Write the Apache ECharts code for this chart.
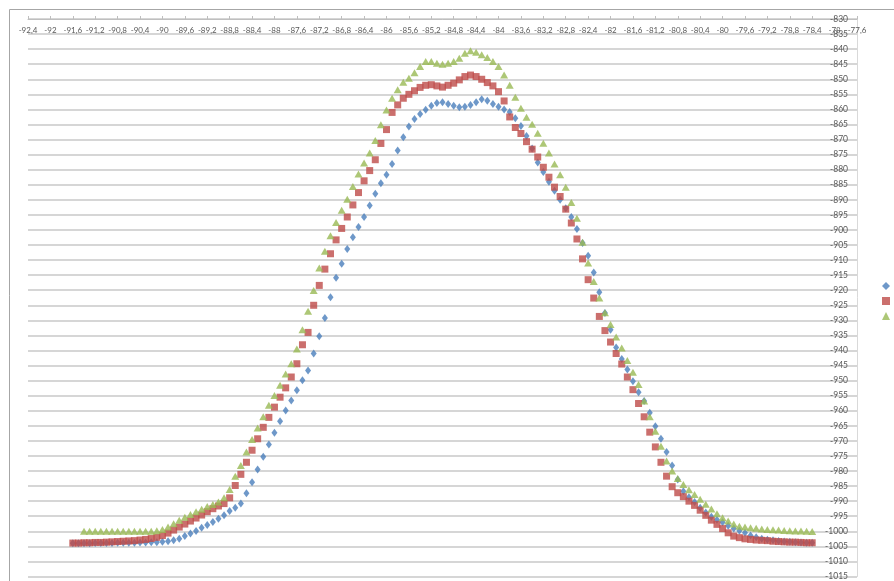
<!DOCTYPE html>
<html>
<head>
<meta charset="utf-8">
<script src="https://cdn.jsdelivr.net/npm/echarts@6/dist/echarts.min.js"></script>
<style>
html,body{margin:0;padding:0;background:#fff;}
#chart{width:894px;height:581px;}
</style>
</head>
<body>
<div id="chart"></div>
<script>
// x positions of the measurements
var xValues = [
-91.6,-91.5,-91.4,-91.3,-91.2,-91.1,-91.0,-90.9,-90.8,-90.7,
-90.6,-90.5,-90.4,-90.3,-90.2,-90.1,-90.0,-89.9,-89.8,-89.7,
-89.6,-89.5,-89.4,-89.3,-89.2,-89.1,-89.0,-88.9,-88.8,-88.7,
-88.6,-88.5,-88.4,-88.3,-88.2,-88.1,-88.0,-87.9,-87.8,-87.7,
-87.6,-87.5,-87.4,-87.3,-87.2,-87.1,-87.0,-86.9,-86.8,-86.7,
-86.6,-86.5,-86.4,-86.3,-86.2,-86.1,-86.0,-85.9,-85.8,-85.7,
-85.6,-85.5,-85.4,-85.3,-85.2,-85.1,-85.0,-84.9,-84.8,-84.7,
-84.6,-84.5,-84.4,-84.3,-84.2,-84.1,-84.0,-83.9,-83.8,-83.7,
-83.6,-83.5,-83.4,-83.3,-83.2,-83.1,-83.0,-82.9,-82.8,-82.7,
-82.6,-82.5,-82.4,-82.3,-82.2,-82.1,-82.0,-81.9,-81.8,-81.7,
-81.6,-81.5,-81.4,-81.3,-81.2,-81.1,-81.0,-80.9,-80.8,-80.7,
-80.6,-80.5,-80.4,-80.3,-80.2,-80.1,-80.0,-79.9,-79.8,-79.7,
-79.6,-79.5,-79.4,-79.3,-79.2,-79.1,-79.0,-78.9,-78.8,-78.7,
-78.6,-78.5,-78.4
];

// Series 1 (blue diamonds)
var series1 = [
-1004.0,-1004.0,-1004.0,-1004.0,-1003.9,-1003.9,-1003.9,-1003.9,-1003.8,-1003.8,
-1003.8,-1003.8,-1003.7,-1003.7,-1003.6,-1003.6,-1003.5,-1003.3,-1003.0,-1002.5,
-1001.6,-1000.7,-999.9,-998.8,-997.9,-996.9,-995.8,-994.7,-993.3,-992.2,
-990.8,-987.4,-983.7,-979.5,-975.3,-971.2,-967.3,-963.5,-959.9,-956.6,
-953.2,-949.9,-946.6,-941.0,-935.3,-929.2,-922.3,-915.9,-911.2,-906.3,
-902.4,-899.0,-895.7,-891.9,-888.0,-884.5,-881.7,-878.1,-873.6,-869.2,
-865.7,-863.2,-861.5,-860.1,-858.8,-857.9,-857.6,-858.2,-858.8,-859.3,
-859.1,-858.5,-857.6,-856.6,-857.1,-858.2,-859.1,-860.0,-860.9,-862.9,
-865.5,-868.8,-873.0,-877.6,-880.8,-884.0,-887.0,-890.0,-892.8,-895.7,
-899.7,-904.3,-908.6,-914.1,-920.7,-927.6,-933.1,-939.0,-942.8,-946.3,
-950.2,-953.9,-956.8,-960.7,-965.1,-969.3,-973.7,-978.2,-982.8,-986.7,
-988.7,-990.3,-992.2,-993.8,-995.2,-996.2,-997.0,-998.2,-999.1,-999.8,
-1000.5,-1001.4,-1002.0,-1002.5,-1002.8,-1003.0,-1003.2,-1003.4,-1003.5,-1003.6,
-1003.7,-1003.8,-1003.8
];

// Series 2 (red squares)
var series2 = [
-1003.9,-1003.9,-1003.8,-1003.8,-1003.7,-1003.7,-1003.6,-1003.5,-1003.4,-1003.3,
-1003.2,-1003.1,-1002.9,-1002.7,-1002.4,-1002.0,-1001.4,-1000.6,-999.6,-998.6,
-997.6,-996.6,-995.6,-994.6,-993.5,-992.5,-991.6,-990.8,-988.9,-984.8,
-981.1,-977.1,-973.1,-969.3,-965.5,-962.2,-958.8,-955.5,-952.4,-948.8,
-944.4,-938.1,-934.0,-925.0,-918.4,-913.0,-907.9,-903.3,-899.5,-895.7,
-891.7,-887.6,-883.7,-880.3,-876.7,-871.3,-866.7,-861.0,-858.5,-856.3,
-855.0,-853.8,-852.7,-852.0,-851.8,-852.2,-852.6,-852.0,-851.3,-850.2,
-849.1,-848.6,-849.1,-850.0,-851.1,-852.2,-854.1,-857.2,-862.5,-866.0,
-868.0,-870.7,-873.2,-875.8,-879.2,-882.5,-885.8,-888.9,-893.1,-897.7,
-903.0,-909.6,-916.5,-922.6,-928.7,-933.4,-937.2,-941.0,-944.5,-948.8,
-953.0,-957.6,-962.0,-967.1,-972.0,-977.1,-981.7,-985.2,-987.2,-988.5,
-990.0,-991.4,-993.0,-994.7,-996.3,-997.7,-999.1,-1000.5,-1001.6,-1002.1,
-1002.5,-1002.7,-1002.9,-1003.0,-1003.1,-1003.3,-1003.4,-1003.5,-1003.6,-1003.6,
-1003.7,-1003.8,-1003.8
];

// Series 3 (green triangles)
var series3 = [
null,null,-1000.0,-1000.0,-1000.0,-1000.0,-1000.0,-1000.0,-1000.0,-1000.0,
-1000.0,-1000.0,-1000.0,-1000.0,-1000.0,-999.8,-999.4,-998.6,-997.5,-996.3,
-995.3,-994.4,-993.5,-992.7,-991.8,-991.1,-990.3,-988.9,-986.1,-981.7,
-978.2,-973.7,-969.5,-965.7,-962.0,-958.2,-954.9,-951.5,-947.8,-944.4,
-939.5,-933.1,-927.0,-920.1,-912.6,-907.1,-901.9,-897.5,-893.5,-889.8,
-885.6,-881.4,-877.8,-874.5,-870.3,-865.1,-860.2,-856.3,-853.5,-851.0,
-849.7,-847.8,-845.8,-844.1,-844.1,-844.7,-845.0,-844.7,-844.1,-843.0,
-841.4,-840.5,-841.0,-841.9,-842.8,-844.1,-845.8,-848.6,-852.0,-856.0,
-859.6,-862.6,-864.9,-867.9,-871.2,-874.5,-878.1,-881.7,-885.8,-890.9,
-896.1,-904.1,-911.0,-917.1,-922.6,-927.5,-931.4,-935.5,-939.2,-943.3,
-947.2,-951.3,-956.8,-962.0,-966.8,-971.8,-976.7,-980.0,-982.5,-984.5,
-986.2,-987.8,-989.4,-991.0,-992.6,-994.2,-995.5,-996.6,-997.6,-998.3,
-998.6,-998.8,-999.0,-999.2,-999.4,-999.5,-999.6,-999.7,-999.8,-999.9,
-999.9,-1000.0,-1000.1
];

var seriesNames = ['Series1', 'Series2', 'Series3'];

var xMin = -92.4, xMax = -77.6, xStep = 0.4;
var yMin = -1015, yMax = -830, yStep = 5;

function pairs(vals) {
  var out = [];
  for (var i = 0; i < xValues.length; i++) {
    if (vals[i] !== null) out.push([xValues[i], vals[i]]);
  }
  return out;
}

var FONT = 'Lato, "Open Sans", sans-serif';
var chart = echarts.init(document.getElementById('chart'));
chart.setOption({
  animation: false,
  backgroundColor: '#ffffff',
  textStyle: { fontFamily: FONT },
  graphic: [{
    type: 'rect',
    shape: { x: 9.5, y: 9.5, width: 900, height: 600 },
    style: { fill: 'none', stroke: '#a6a6a6', lineWidth: 1 },
    silent: true
  }],
  grid: { left: 28, right: 37, top: 19, bottom: 4, containLabel: false },
  legend: {
    orient: 'vertical',
    left: 877,
    top: 277,
    itemWidth: 8,
    itemHeight: 8,
    itemGap: 7,
    data: seriesNames,
    formatter: function () { return ''; },
    textStyle: { fontSize: 1 },
    selectedMode: false
  },
  xAxis: {
    type: 'value',
    position: 'top',
    min: xMin,
    max: xMax,
    interval: xStep,
    axisLine: { show: true, lineStyle: { color: '#bfbfbf', width: 1 } },
    axisTick: { show: true, inside: false, length: 3, lineStyle: { color: '#bfbfbf' } },
    splitLine: { show: false },
    axisLabel: {
      inside: true,
      margin: 7,
      fontSize: 8,
      color: '#595959',
      fontFamily: FONT,
      showMinLabel: true,
      showMaxLabel: true,
      hideOverlap: false,
      formatter: function (v) {
        var r = Math.round(v * 10) / 10;
        return String(r).replace('.', ',');
      }
    }
  },
  yAxis: {
    type: 'value',
    position: 'right',
    min: yMin,
    max: yMax,
    interval: yStep,
    axisLine: { show: true, lineStyle: { color: '#d9d9d9', width: 1 } },
    axisTick: { show: false },
    splitLine: { show: true, lineStyle: { color: '#d6d6d6', width: 2 } },
    axisLabel: {
      inside: true,
      margin: 9,
      fontSize: 8.5,
      color: '#595959',
      fontFamily: FONT,
      showMinLabel: true,
      showMaxLabel: true,
      formatter: function (v) { return String(Math.round(v)); }
    }
  },
  series: [
    {
      name: seriesNames[0],
      type: 'scatter',
      symbol: 'diamond',
      symbolSize: [6, 8],
      itemStyle: { color: '#4A7EBB' },
      data: pairs(series1)
    },
    {
      name: seriesNames[1],
      type: 'scatter',
      symbol: 'rect',
      symbolSize: 7,
      itemStyle: { color: '#BE4B48' },
      data: pairs(series2)
    },
    {
      name: seriesNames[2],
      type: 'scatter',
      symbol: 'triangle',
      symbolSize: [8, 7],
      itemStyle: { color: '#98B954' },
      data: pairs(series3)
    }
  ]
});
</script>
</body>
</html>
